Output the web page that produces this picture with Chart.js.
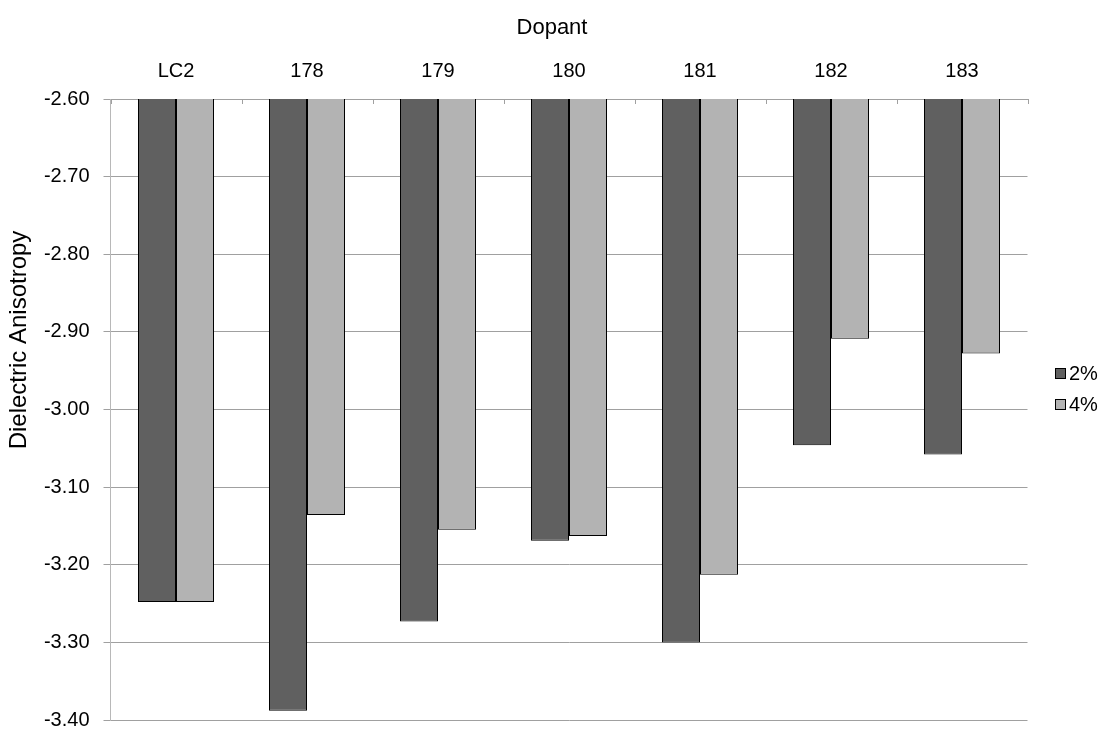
<!DOCTYPE html>
<html><head><meta charset="utf-8">
<script src="https://cdn.jsdelivr.net/npm/chart.js@4/dist/chart.umd.min.js"></script>
<style>html,body{margin:0;padding:0;background:#fff}#wrap{width:1104px;height:731px}</style>
</head><body><div id="wrap"><canvas id="c" width="1104" height="731"></canvas></div>
<script>
const categories = ['LC2', '178', '179', '180', '181', '182', '183'];
const series2 = [-3.248, -3.388, -3.273, -3.169, -3.300, -3.046, -3.058];
const series4 = [-3.248, -3.136, -3.155, -3.163, -3.213, -2.909, -2.928];
const seriesNames = ['2%', '4%'];
const yTicks = [-2.6, -2.7, -2.8, -2.9, -3.0, -3.1, -3.2, -3.3, -3.4];
const xTitle = 'Dopant';
const yTitle = 'Dielectric Anisotropy';

const FONT = '"Liberation Sans", Arial, sans-serif';
Chart.defaults.font.family = FONT;
Chart.defaults.font.size = 20;
Chart.defaults.color = '#000';

const extras = {
  id: 'extras',
  afterDraw(chart) {
    const {ctx, chartArea} = chart;
    ctx.save();
    // inside tick marks on the top category axis, at category boundaries
    const xs = chart.scales.x;
    ctx.strokeStyle = '#a0a0a0';
    ctx.lineWidth = 1;
    for (let i = 0; i <= categories.length; i++) {
      const px = Math.round(xs.getPixelForValue(i - 0.5)) + 0.5;
      ctx.beginPath();
      ctx.moveTo(px, chartArea.top);
      ctx.lineTo(px, chartArea.top + 5);
      ctx.stroke();
    }
    // y axis title
    ctx.save();
    ctx.translate(19, 340);
    ctx.rotate(-Math.PI / 2);
    ctx.font = '24px ' + FONT;
    ctx.fillStyle = '#000';
    ctx.textAlign = 'center';
    ctx.textBaseline = 'middle';
    ctx.fillText(yTitle, 0, 0);
    ctx.restore();
    // legend
    const x = Math.round(chartArea.right + 27);
    const y0 = chartArea.top + (chartArea.bottom - chartArea.top) * 0.442;
    chart.data.datasets.forEach((ds, i) => {
      const y = Math.round(y0 + i * 31);
      ctx.fillStyle = ds.backgroundColor;
      ctx.fillRect(x, y - 5, 11, 11);
      ctx.strokeStyle = '#000';
      ctx.lineWidth = 1;
      ctx.strokeRect(x + 0.5, y - 4.5, 10, 10);
      ctx.fillStyle = '#000';
      ctx.font = '20px ' + FONT;
      ctx.textBaseline = 'middle';
      ctx.textAlign = 'left';
      ctx.fillText(ds.label, x + 14, y + 1);
    });
    ctx.restore();
  }
};

new Chart(document.getElementById('c'), {
  type: 'bar',
  data: {
    labels: categories,
    datasets: [
      {label: seriesNames[0], data: series2, backgroundColor: '#606060', borderColor: '#000', borderWidth: 1, borderSkipped: false},
      {label: seriesNames[1], data: series4, backgroundColor: '#b3b3b3', borderColor: '#000', borderWidth: 1, borderSkipped: false}
    ]
  },
  options: {
    responsive: false,
    animation: false,
    devicePixelRatio: 1,
    layout: {padding: {left: 0, top: 0, right: 0, bottom: 11}},
    datasets: {bar: {categoryPercentage: 76 / 131, barPercentage: 1}},
    plugins: {
      legend: {display: false},
      tooltip: {enabled: false},
      title: {display: true, text: xTitle, position: 'top', color: '#000', font: {size: 22, weight: 'normal', lineHeight: 1.2}, padding: {top: 15, bottom: 0.6}}
    },
    scales: {
      x: {
        position: 'top',
        afterFit: s => { s.height = 57; },
        grid: {display: false, drawTicks: false, tickLength: 0},
        border: {display: true, color: '#a0a0a0'},
        ticks: {padding: 16, font: {size: 20}}
      },
      y: {
        min: -3.4, max: -2.6,
        afterBuildTicks: s => { s.ticks = yTicks.map(v => ({value: v})); },
        afterFit: s => { s.width = 110.5; s.paddingTop = 0; s.paddingBottom = 0; },
        ticks: {callback: v => Number(v).toFixed(2), padding: 14, font: {size: 20}},
        grid: {color: '#a0a0a0', tickLength: 7},
        border: {color: '#b8b8b8'}
      },
      legendSpace: {
        type: 'linear',
        position: 'right',
        afterFit: s => { s.width = 76.5; s.paddingTop = 0; s.paddingBottom = 0; },
        ticks: {display: false},
        grid: {display: false, drawTicks: false, tickLength: 0},
        border: {display: false}
      }
    }
  },
  plugins: [extras]
});
</script></body></html>
